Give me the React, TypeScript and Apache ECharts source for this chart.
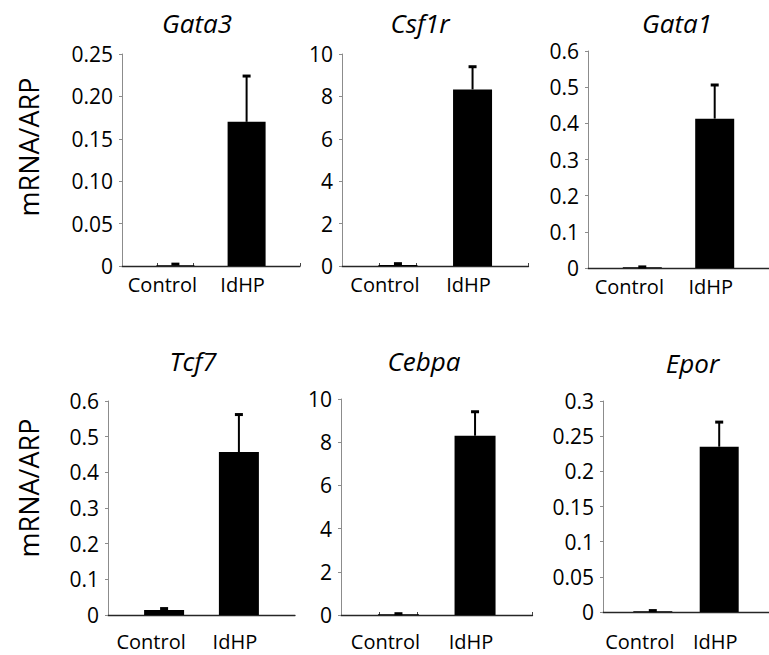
import React, { useEffect, useRef } from "react";
import * as echarts from "echarts";

// ---- data ----
const genes = ["Gata3", "Csf1r", "Gata1", "Tcf7", "Cebpa", "Epor"];
const categories = ["", "Control", "", "IdHP", ""];
const controlMeans = [0.001, 0.05, 0.002, 0.014, 0.03, 0.001];
const controlErrors = [0.0012, 0.06, 0.001, 0.004, 0.03, 0.001];
const idhpMeans = [0.17, 8.33, 0.413, 0.457, 8.3, 0.235];
const idhpErrors = [0.054, 1.07, 0.093, 0.105, 1.11, 0.035];
const yMax = [0.25, 10, 0.6, 0.6, 10, 0.3];
const yInterval = [0.05, 2, 0.1, 0.1, 2, 0.05];
const yTickLabels = [
  ["0", "0.05", "0.10", "0.15", "0.20", "0.25"],
  ["0", "2", "4", "6", "8", "10"],
  ["0", "0.1", "0.2", "0.3", "0.4", "0.5", "0.6"],
  ["0", "0.1", "0.2", "0.3", "0.4", "0.5", "0.6"],
  ["0", "2", "4", "6", "8", "10"],
  ["0", "0.05", "0.1", "0.15", "0.2", "0.25", "0.3"],
];
const yAxisTitle = "mRNA/ARP";

// ---- layout (positions / sizes / styles) ----
const layout = [
  { left: 122, top: 54, width: 178, height: 212, barWidth: 38, titleX: 197, titleY: 10, shift: 7, catMargin: 8, ticks: true },
  { left: 342, top: 54, width: 186.5, height: 212, barWidth: 39, titleX: 420, titleY: 10, shift: 0, catMargin: 8, ticks: true },
  { left: 588, top: 51, width: 185, height: 217, barWidth: 39, titleX: 677, titleY: 10, shift: 2, catMargin: 8, ticks: false },
  { left: 108, top: 401, width: 187, height: 214, barWidth: 40, titleX: 193, titleY: 348, shift: 3, catMargin: 16, ticks: false },
  { left: 341, top: 399, width: 191.5, height: 216, barWidth: 41, titleX: 424, titleY: 348, shift: 3, catMargin: 16, ticks: true },
  { left: 603, top: 401, width: 176.5, height: 211, barWidth: 39, titleX: 692.5, titleY: 350, shift: 3, catMargin: 19, ticks: false },
];
const yNamePos = [
  { x: 28, y: 147 },
  { x: 28, y: 488 },
];
const FONT = "'Open Sans', 'Noto Sans', sans-serif";

function buildOption() {
  const grid: any[] = [];
  const xAxis: any[] = [];
  const yAxis: any[] = [];
  const series: any[] = [];
  const title: any[] = [];

  genes.forEach((gene, i) => {
    const L = layout[i];
    grid.push({ left: L.left, top: L.top, width: L.width, height: L.height, containLabel: false });
    title.push({
      text: gene,
      left: L.titleX,
      top: L.titleY,
      textAlign: "center",
      padding: 0,
      textStyle: { fontFamily: FONT, fontStyle: "italic", fontWeight: "normal", fontSize: 26, color: "#000" },
    });
    xAxis.push({
      type: "category",
      gridIndex: i,
      data: categories,
      boundaryGap: true,
      axisLine: { show: true, onZero: true, lineStyle: { color: "#262626", width: 1.3 } },
      axisTick: {
        show: L.ticks,
        inside: true,
        length: 3,
        interval: (idx: number) => idx === 1 || idx === 2,
        lineStyle: { color: "#444", width: 1 },
      },
      axisLabel: {
        interval: 0,
        margin: L.catMargin,
        color: "#000",
        fontFamily: FONT,
        fontSize: 20,
        formatter: (v: string) => (v === "Control" ? "{c|Control}" : v === "IdHP" ? "{d|IdHP}" : ""),
        rich: {
          c: { fontFamily: FONT, fontSize: 20, color: "#000", padding: [0, 26, 0, 0] },
          d: { fontFamily: FONT, fontSize: 20, color: "#000", padding: [0, 8, 0, 0] },
        },
      },
      splitLine: { show: false },
    });
    const labels = yTickLabels[i];
    const itv = yInterval[i];
    yAxis.push({
      type: "value",
      gridIndex: i,
      min: 0,
      max: yMax[i],
      interval: itv,
      axisLine: { show: true, lineStyle: { color: "#8c8c8c", width: 1 } },
      axisTick: { show: true, length: 3, lineStyle: { color: "#8c8c8c" } },
      splitLine: { show: false },
      axisLabel: {
        color: "#000",
        fontFamily: FONT,
        fontSize: 21,
        margin: 9,
        padding: [L.shift * 2, 0, 0, 0],
        formatter: (v: number) => labels[Math.round(v / itv)] ?? "",
      },
    });
    series.push({
      type: "bar",
      xAxisIndex: i,
      yAxisIndex: i,
      barWidth: L.barWidth,
      itemStyle: { color: "#000" },
      data: ["-", controlMeans[i], "-", idhpMeans[i], "-"],
      z: 2,
    });
    series.push({
      type: "custom",
      xAxisIndex: i,
      yAxisIndex: i,
      z: 3,
      data: [
        [1, controlMeans[i], controlErrors[i]],
        [3, idhpMeans[i], idhpErrors[i]],
      ],
      encode: { x: 0, y: 1 },
      renderItem: (params: any, api: any) => {
        const xi = api.value(0);
        const m = api.value(1);
        const e = api.value(2);
        const p0 = api.coord([xi, m]);
        const p1 = api.coord([xi, m + e]);
        return {
          type: "group",
          children: [
            { type: "line", shape: { x1: p0[0], y1: p0[1], x2: p1[0], y2: p1[1] }, style: { stroke: "#000", lineWidth: 2 } },
            { type: "line", shape: { x1: p1[0] - 4, y1: p1[1], x2: p1[0] + 4, y2: p1[1] }, style: { stroke: "#000", lineWidth: 3 } },
          ],
        };
      },
    });
  });

  const graphic = yNamePos.map((p) => ({
    type: "text",
    x: p.x,
    y: p.y,
    rotation: Math.PI / 2,
    style: {
      text: yAxisTitle,
      fontFamily: FONT,
      fontSize: 27,
      fill: "#000",
      align: "center",
      verticalAlign: "middle",
    },
  }));

  return {
    animation: false,
    backgroundColor: "#fff",
    title,
    grid,
    xAxis,
    yAxis,
    series,
    graphic,
  };
}

export default function App() {
  const ref = useRef<HTMLDivElement>(null);
  useEffect(() => {
    if (!ref.current) return;
    const chart = echarts.init(ref.current, undefined, { renderer: "svg" });
    chart.setOption(buildOption() as any);
    return () => chart.dispose();
  }, []);
  return (
    <div
      ref={ref}
      style={{ position: "fixed", left: 0, top: 0, width: 769, height: 655, background: "#fff" }}
    />
  );
}
